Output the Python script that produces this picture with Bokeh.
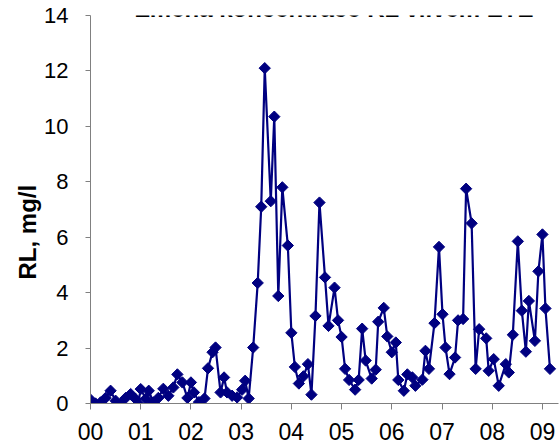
from bokeh.plotting import figure
from bokeh.embed import file_html
from bokeh.resources import INLINE
from bokeh.models import FixedTicker, Label, Title
import numpy as np

# decimal years since 2000 and RL concentration (mg/l)
years = [0.00, 0.10, 0.20, 0.30, 0.40, 0.50, 0.60, 0.70, 0.80, 0.90, 0.95,
         1.00, 1.10, 1.16, 1.25, 1.35, 1.45, 1.55, 1.65, 1.73, 1.83, 1.93,
         2.00, 2.06, 2.16, 2.27, 2.34, 2.43, 2.49, 2.59, 2.66, 2.72, 2.82, 2.92,
         3.02, 3.08, 3.15, 3.24, 3.33, 3.40, 3.47, 3.59, 3.66, 3.74, 3.82, 3.93,
         4.00, 4.07, 4.15, 4.24, 4.33, 4.40, 4.48, 4.56, 4.67, 4.74, 4.86, 4.93,
         5.00, 5.07, 5.15, 5.27, 5.34, 5.41, 5.48, 5.60, 5.68, 5.73, 5.84, 5.91,
         6.00, 6.08, 6.13, 6.24, 6.31, 6.41, 6.47, 6.61, 6.67, 6.74, 6.85, 6.94,
         7.01, 7.07, 7.15, 7.26, 7.32, 7.42, 7.48, 7.59, 7.67, 7.74, 7.88, 7.93,
         8.03, 8.13, 8.27, 8.33, 8.41, 8.51, 8.59, 8.67, 8.73, 8.85, 8.92,
         9.00, 9.06, 9.15]
rl = [0.14, 0.00, 0.04, 0.20, 0.46, 0.10, 0.00, 0.20, 0.34, 0.16, 0.00,
      0.52, 0.17, 0.46, 0.04, 0.20, 0.53, 0.28, 0.58, 1.05, 0.76, 0.20,
      0.76, 0.40, 0.05, 0.18, 1.27, 1.85, 2.02, 0.40, 0.94, 0.40, 0.28, 0.22,
      0.50, 0.82, 0.18, 2.02, 4.35, 7.10, 12.10, 7.30, 10.35, 3.88, 7.80, 5.70,
      2.55, 1.32, 0.72, 0.98, 1.42, 0.32, 3.16, 7.25, 4.55, 2.80, 4.18, 3.00,
      2.40, 1.25, 0.85, 0.50, 0.85, 2.70, 1.55, 0.90, 1.22, 2.95, 3.45, 2.42,
      1.85, 2.20, 0.85, 0.46, 1.05, 0.94, 0.64, 0.86, 1.90, 1.25, 2.90, 5.65,
      3.22, 2.02, 1.06, 1.66, 3.00, 3.05, 7.75, 6.50, 1.25, 2.68, 2.35, 1.18,
      1.60, 0.64, 1.42, 1.12, 2.48, 5.85, 3.35, 1.87, 3.70, 2.26, 4.77,
      6.10, 3.43, 1.25]

x_ticks = [0, 1, 2, 3, 4, 5, 6, 7, 8, 9]
x_labels = ["00", "01", "02", "03", "04", "05", "06", "07", "08", "09"]
y_ticks = [0, 2, 4, 6, 8, 10, 12, 14]

title_text = "Změna koncentrace RL vlivem ETE"
y_title = "RL, mg/l"

FONT = "Liberation Sans"
NAVY = "#000080"
AXIS = "#808080"

p = figure(width=559, height=448, x_range=(0, 9.32), y_range=(0, 14),
           output_backend="svg", toolbar_location=None,
           min_border_left=90, min_border_right=1, min_border_top=15,
           min_border_bottom=45)
p.outline_line_color = None
p.xgrid.visible = False
p.ygrid.visible = False
p.background_fill_color = "white"
p.border_fill_color = "white"

p.line(years, rl, line_color=NAVY, line_width=2.2)
p.scatter(years, rl, marker="square", angle=np.pi / 4, size=8,
          fill_color=NAVY, line_color=NAVY)

xa = p.xaxis[0]
xa.ticker = FixedTicker(ticks=x_ticks)
xa.major_label_overrides = {t: l for t, l in zip(x_ticks, x_labels)}
xa.minor_tick_line_color = None
xa.major_tick_in = 0
xa.major_tick_out = 6
xa.axis_line_color = AXIS
xa.major_tick_line_color = AXIS
xa.major_label_text_font = FONT
xa.major_label_text_font_size = "23px"
xa.major_label_text_color = "black"
xa.major_label_standoff = 13

ya = p.yaxis[0]
ya.ticker = FixedTicker(ticks=y_ticks)
ya.minor_tick_line_color = None
ya.major_tick_in = 0
ya.major_tick_out = 5
ya.axis_line_color = AXIS
ya.major_tick_line_color = AXIS
ya.major_label_text_font = FONT
ya.major_label_text_font_size = "22px"
ya.major_label_text_color = "black"
ya.major_label_standoff = 17

# axis title on the left, placed a little below the middle as in the reference
p.add_layout(Title(text=y_title, align="left", offset=124, standoff=2,
                   text_font=FONT, text_font_size="24px",
                   text_font_style="bold", text_color="black"), "left")

# chart title, partly above the top edge as in the reference
p.add_layout(Label(x=4.86, y=14.27, text=title_text, text_align="center",
                   text_baseline="alphabetic", text_font=FONT,
                   text_font_size="24px", text_font_style="bold",
                   text_color="black"))

open("out.html", "w").write(file_html(p, INLINE))
